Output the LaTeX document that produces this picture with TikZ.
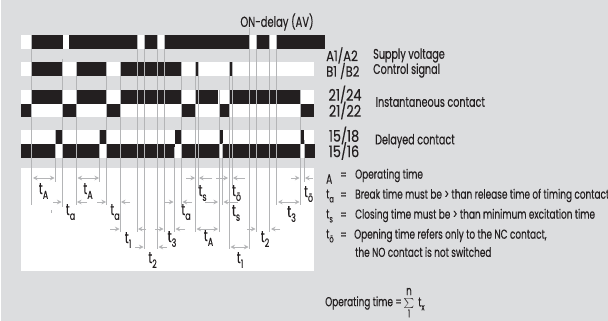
\documentclass[tikz,border=0pt]{standalone}
\usepackage{fontspec}
\setmainfont[FakeStretch=0.687,FakeBold=0.25]{Poppins}
\newfontfamily\pinfont[FakeStretch=0.8,FakeBold=0.25]{Poppins}
\usepackage{xcolor}
\usetikzlibrary{arrows.meta}
\definecolor{panelgray}{HTML}{DCDDDF}
\definecolor{guidegray}{HTML}{B4B5B7}
\definecolor{barblack}{HTML}{231F20}
\newcommand{\tsub}[2][11.5]{t\raisebox{-0.3em}{\fontsize{#1}{#1}\selectfont #2}}
\begin{document}
\begin{tikzpicture}[
        x=1pt, y=-1pt,
        stripfill/.style = {fill=white},
        barfill/.style = {fill=barblack},
        guide/.style = {guidegray, line width=1pt},
        onespan/.style = {guidegray, line width=0.8pt, -{Stealth[length=4.5pt,width=4.5pt]}},
        twospan/.style = {guidegray, line width=0.8pt, {Stealth[length=4.5pt,width=4.5pt]}-{Stealth[length=4.5pt,width=4.5pt]}},
        tlabel/.style = {inner sep=0pt, text=barblack, font=\fontsize{16}{16}\selectfont},
        keymark/.style = {inner sep=0pt, anchor=west, text=barblack, font=\fontsize{13}{14}\selectfont},
        pinlabel/.style = {inner sep=0pt, text=barblack, font=\pinfont\fontsize{16}{18}\selectfont},
        rowname/.style = {inner sep=0pt, anchor=west, text=barblack, font=\fontsize{14}{16}\selectfont},
        keytext/.style = {inner sep=0pt, anchor=west, text=barblack, font=\fontsize{13}{14}\selectfont},
    ]
        \useasboundingbox (0,0) rectangle (608,321);
        \fill[panelgray] (1,0) rectangle (608,321);
        % white strips and panel
        \fill[stripfill] (21,35) rectangle (325,49);
        \fill[stripfill] (21,62) rectangle (314,76);
        \fill[stripfill] (21,90) rectangle (314,117);
        \fill[stripfill] (21,130) rectangle (314,158);
        \fill[stripfill] (21,168) rectangle (314,270.5);
        % black pulses
        \foreach \xa/\xb in {32/63, 69/137, 144/157, 165/250, 257/269.5, 277/325}
            \fill[barfill] (\xa,35) rectangle (\xb,49);
        \foreach \xa/\xb in {32/62, 76/106, 120/182, 195.5/198.5, 229/232}
            \fill[barfill] (\xa,62) rectangle (\xb,76);
        \foreach \xa/\xb in {32/62, 76/106, 120/182, 195.5/218, 229/300}
            \fill[barfill] (\xa,90) rectangle (\xb,103.5);
        \foreach \xa/\xb in {21/32, 63/75.5, 107/120, 181/195, 219/229, 301/314}
            \fill[barfill] (\xa,103.5) rectangle (\xb,117);
        \foreach \xa/\xb in {56/62, 100/106, 175/181.5, 219.5/223, 301/304}
            \fill[barfill] (\xa,130) rectangle (\xb,144);
        \foreach \xa/\xb in {21/56, 62.5/100, 106.5/175, 182/219.5, 223/301, 304/315}
            \fill[barfill] (\xa,144) rectangle (\xb,158);
        % guide lines
        \foreach \x/\ya/\yb in {31/35/205, 55.7/130/182, 62.3/59/207, 76/62/205, 99.7/130/182,
            106.7/62/205, 120/62/232, 137.3/35/232, 144/35/249, 157.7/35/249, 164.3/35/232,
            174.5/147/232, 181.6/62/207, 195.4/62/232, 198.3/62/188, 219/90/232, 222.3/143/205,
            229/62/249, 232.3/62/188, 249.3/28/249, 256.3/35/232, 269.7/35/232, 276.7/35/205,
            300.3/90/205, 304/140/182}
            \draw[guide] (\x,\ya) -- (\x,\yb);
        \draw[guide, line width=0.6pt] (51.7,210) -- (51.7,213);
        % time spans
        \foreach \xa/\xb/\y in {33/54.5/178, 77.5/99/178, 278/299.5/202, 196.5/218/229, 230.5/248.5/247}
            \draw[twospan] (\xa,\y) -- (\xb,\y);
        \foreach \xa/\xb/\y in {186/195/178, 212/199/178, 216/228/178, 245/233/178, 291/299.5/178, 313/305/178,
            53/61.5/202, 87/77/202, 97/106/202, 130/121/202, 165/173.5/202, 192/182.5/202, 205/218/202, 238/223.5/202,
            110/119.5/229, 146/138/229, 155/163.5/229, 185/175.5/229, 247/255.5/229, 280/271/229,
            135/143.5/247, 167/158.5/247}
            \draw[onespan] (\xa,\y) -- (\xb,\y);
        % time labels
        \foreach \x/\y/\s [count=\i] in {43.5/191/A, 88/191/A, 70.5/212/a, 115/212/a, 186/212/a, 128/240/1,
            172/239/3, 152.5/260/2, 202.5/193/s, 236.5/193/ö, 236/213/s, 291.5/214/3, 208.5/238/A,
            265/239/2, 240/260/1, 308.5/194/ö}
            \node[tlabel] (t\i) at (\x,\y) {\tsub{\s}};
        % title and contact names
        \node[tlabel, font=\fontsize{14.5}{16}\selectfont] (title) at (277,22) {ON-delay (AV)};
        \node[pinlabel, anchor=west, font=\pinfont\fontsize{14.5}{16}\selectfont] (a1a2) at (326,55.5) {A1/A2};
        \node[pinlabel, anchor=west, font=\pinfont\fontsize{14.5}{16}\selectfont] (b1b2) at (326,71) {B1 /B2};
        \node[pinlabel] (p2124) at (345,94.5) {21/24};
        \node[pinlabel] (p2122) at (345,110.5) {21/22};
        \node[pinlabel] (p1518) at (344,135.5) {15/18};
        \node[pinlabel] (p1516) at (344,151) {15/16};
        \node[rowname] (supply) at (373,55.5) {Supply voltage};
        \node[rowname] (control) at (373,70.5) {Control signal};
        \node[rowname] (instant) at (375.5,102) {Instantaneous contact};
        \node[rowname] (delayed) at (375,141) {Delayed contact};
        % legend
        \node[keymark] (keyA) at (326,179) {A};
        \node[keymark] (keya) at (326,196) {\tsub[9.5]{a}};
        \node[keymark] (keys) at (326,216) {\tsub[9.5]{s}};
        \node[keymark] (keyo) at (326,236) {\tsub[9.5]{ö}};
        \foreach \y [count=\i] in {176,196,216,236}
            \node[keytext] (eq\i) at (340,\y) {=};
        \node[keytext] (lineA) at (355,175.5) {Operating time};
        \node[keytext] (linea) at (355,195.5) {Break time must be > than release time of timing contact};
        \node[keytext] (lines) at (355,215.5) {Closing time must be > than minimum excitation time};
        \node[keytext] (lineo) at (354,235.5) {Opening time refers only to the NC contact,};
        \node[keytext] (lineb) at (355,252) {the NO contact is not switched};
        % operating time sum
        \node[keytext, anchor=east] (optime) at (402,303) {Operating time =};
        \node[inner sep=0pt, text=barblack, font=\fontsize{12.5}{14}\selectfont] (sum) at (409,303.5) {$\sum$};
        \node[keytext, anchor=center] (sumtop) at (409,291.5) {n};
        \node[keytext, anchor=center, font=\fontsize{11}{12}\selectfont] (sumbot) at (409,313.5) {1};
        \node[keymark] (tx) at (418,304) {\tsub[9.5]{x}};
    \end{tikzpicture}
\end{document}
